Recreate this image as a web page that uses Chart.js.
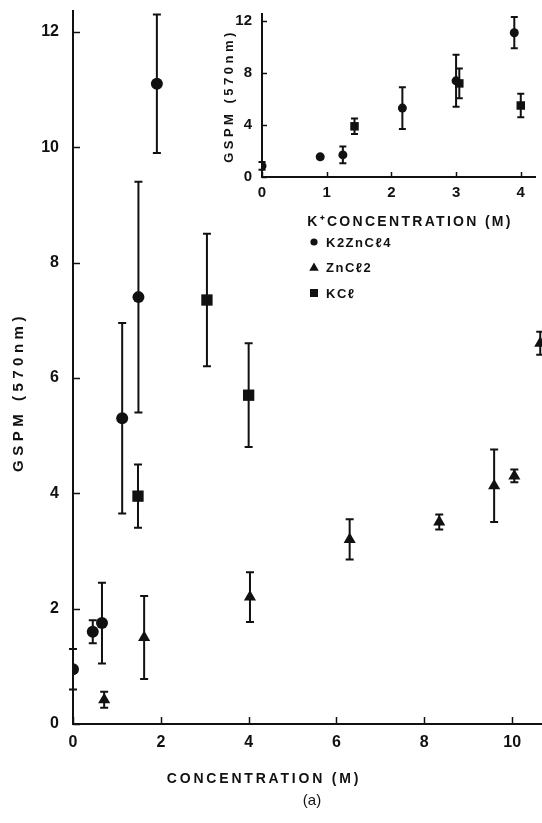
<!DOCTYPE html>
<html><head><meta charset="utf-8">
<script src="https://cdn.jsdelivr.net/npm/chart.js@4/dist/chart.umd.min.js"></script>
<style>
html,body{margin:0;padding:0;background:#fff;}
#wrap{position:relative;width:542px;height:823px;overflow:hidden;background:#fff;}
#main{position:absolute;left:0;top:0;}
#inset{position:absolute;left:200px;top:0;}
</style></head><body>
<div id="wrap">
<canvas id="main" width="542" height="823"></canvas>
<canvas id="inset" width="342" height="330"></canvas>
</div>
<script>
// ---- Data (main panel: concentration in M) ----
const seriesNames = ['K2ZnCℓ4', 'ZnCℓ2', 'KCℓ'];

const k2znX   = [0, 0.45, 0.66, 1.12, 1.49, 1.91];
const k2znY   = [0.95, 1.6, 1.75, 5.3, 7.4, 11.1];
const k2znErr = [0.35, 0.2, 0.7, 1.65, 2.0, 1.2];

const znX   = [0.71, 1.62, 4.03, 6.3, 8.34, 9.59, 10.05, 10.64];
const znY   = [0.42, 1.5, 2.2, 3.2, 3.5, 4.13, 4.3, 6.6];
const znErr = [0.14, 0.72, 0.43, 0.35, 0.13, 0.63, 0.11, 0.2];

const kclX   = [1.48, 3.05, 4.0];
const kclY   = [3.95, 7.35, 5.7];
const kclErr = [0.55, 1.15, 0.9];

// ---- Data (inset: K+ concentration in M) ----
const insetK2znX   = [0, 0.9, 1.25, 2.17, 3.0, 3.9];
const insetK2znY   = [0.85, 1.55, 1.7, 5.3, 7.4, 11.1];
const insetK2znErr = [0.3, 0.15, 0.65, 1.6, 2.0, 1.2];

const insetKclX   = [1.43, 3.05, 4.0];
const insetKclY   = [3.9, 7.2, 5.5];
const insetKclErr = [0.6, 1.15, 0.9];

// tick settings
const mainXTicks = {min: 0, max: 10.68, step: 2};
const mainYTicks = {min: 0, max: 12.36, step: 2};
const insetXTicks = {min: 0, max: 4.22, step: 1};
const insetYTicks = {min: 0, max: 12.54, step: 4};

const FONT = "'Liberation Sans', Arial, sans-serif";
const INK = '#111';

function pts(xs, ys) { return xs.map((x, i) => ({x: x, y: ys[i]})); }

const errorBars = {
  id: 'errorBars',
  beforeDatasetsDraw(chart, args, opts) {
    const ctx = chart.ctx, xs = chart.scales.x, ys = chart.scales.y;
    ctx.save();
    ctx.strokeStyle = INK; ctx.lineWidth = opts.lineWidth || 2;
    const cap = opts.cap || 4;
    chart.data.datasets.forEach(ds => {
      if (!ds.errors) return;
      ds.data.forEach((p, i) => {
        const e = ds.errors[i]; if (!e) return;
        const px = xs.getPixelForValue(p.x);
        const t = ys.getPixelForValue(p.y + e), b = ys.getPixelForValue(p.y - e);
        ctx.beginPath();
        ctx.moveTo(px, t); ctx.lineTo(px, b);
        ctx.moveTo(px - cap, t); ctx.lineTo(px + cap, t);
        ctx.moveTo(px - cap, b); ctx.lineTo(px + cap, b);
        ctx.stroke();
      });
    });
    ctx.restore();
  }
};

const inTicks = {
  id: 'inTicks',
  afterDraw(chart, args, opts) {
    const ctx = chart.ctx, a = chart.chartArea, xs = chart.scales.x, ys = chart.scales.y;
    const len = opts.len || 7;
    ctx.save(); ctx.strokeStyle = INK; ctx.lineWidth = opts.width || 1.5;
    xs.ticks.forEach(t => {
      const px = Math.round(xs.getPixelForValue(t.value)) + 0.5;
      ctx.beginPath(); ctx.moveTo(px, a.bottom); ctx.lineTo(px, a.bottom - len); ctx.stroke();
    });
    ys.ticks.forEach(t => {
      const py = Math.round(ys.getPixelForValue(t.value)) + 0.5;
      ctx.beginPath(); ctx.moveTo(a.left, py); ctx.lineTo(a.left + len, py); ctx.stroke();
    });
    ctx.restore();
  }
};

const texts = {
  id: 'texts',
  afterDraw(chart, args, opts) {
    const ctx = chart.ctx;
    (opts.items || []).forEach(it => {
      ctx.save();
      ctx.fillStyle = INK;
      ctx.font = it.font;
      ctx.letterSpacing = (it.spacing || 0) + 'px';
      ctx.textAlign = it.align || 'center';
      ctx.textBaseline = 'middle';
      ctx.translate(it.x, it.y);
      if (it.rotate) ctx.rotate(it.rotate);
      ctx.fillText(it.text, 0, 0);
      ctx.restore();
    });
  }
};

function marker(ctx, style, x, y, r) {
  ctx.beginPath();
  if (style === 'circle') { ctx.arc(x, y, r, 0, Math.PI * 2); }
  else if (style === 'triangle') {
    ctx.moveTo(x, y - r); ctx.lineTo(x + r * 0.95, y + r * 0.65); ctx.lineTo(x - r * 0.95, y + r * 0.65); ctx.closePath();
  } else { ctx.rect(x - r, y - r, 2 * r, 2 * r); }
  ctx.fill();
}

const customLegend = {
  id: 'customLegend',
  afterDraw(chart, args, opts) {
    const ctx = chart.ctx;
    ctx.save();
    ctx.fillStyle = INK;
    chart.data.datasets.forEach((ds, i) => {
      const y = opts.y + i * opts.gap;
      marker(ctx, ds.pointStyle, opts.x, y, opts.sizes[i]);
      ctx.font = 'bold 13px ' + FONT;
      ctx.letterSpacing = '1.5px';
      ctx.textAlign = 'left'; ctx.textBaseline = 'middle';
      ctx.fillText(ds.label, opts.x + 12, y + 1);
    });
    ctx.restore();
  }
};

function fixScale(size, horizontal) {
  return function (s) {
    if (horizontal) s.height = size; else s.width = size;
    s.paddingTop = 0; s.paddingBottom = 0; s.paddingLeft = 0; s.paddingRight = 0;
  };
}

function axis(t, horizontal, fontSize, pad, size) {
  return {
    type: 'linear', min: t.min, max: t.max,
    ticks: {stepSize: t.step, includeBounds: false, color: INK, padding: pad,
            font: {family: FONT, size: fontSize, weight: 'bold'}, maxRotation: 0, autoSkip: false},
    grid: {display: false, drawTicks: false},
    border: {display: true, color: INK, width: 2},
    afterFit: fixScale(size, horizontal)
  };
}

new Chart(document.getElementById('main'), {
  type: 'scatter',
  data: {
    datasets: [
      {label: seriesNames[0], data: pts(k2znX, k2znY), errors: k2znErr, pointStyle: 'circle',
       pointRadius: 6, backgroundColor: INK, borderColor: INK, borderWidth: 0},
      {label: seriesNames[1], data: pts(znX, znY), errors: znErr, pointStyle: 'triangle',
       pointRadius: 7, backgroundColor: INK, borderColor: INK, borderWidth: 0},
      {label: seriesNames[2], data: pts(kclX, kclY), errors: kclErr, pointStyle: 'rect',
       pointRadius: 8, backgroundColor: INK, borderColor: INK, borderWidth: 0}
    ]
  },
  options: {
    responsive: false, animation: false, devicePixelRatio: 1,
    layout: {autoPadding: false, padding: {left: 0, top: 11, right: 0, bottom: 59}},
    scales: {
      x: axis(mainXTicks, true, 16, 9, 40),
      y: axis(mainYTicks, false, 16, 14, 73)
    },
    plugins: {
      legend: {display: false}, tooltip: {enabled: false},
      errorBars: {lineWidth: 2, cap: 4},
      inTicks: {len: 7, width: 1.5},
      customLegend: {x: 314, y: 242, gap: 25.5, sizes: [3.6, 5, 4]},
      texts: {items: [
        {text: 'GSPM (570nm)', x: 19, y: 392, rotate: -Math.PI / 2, font: 'bold 15px ' + FONT, spacing: 4.5},
        {text: 'CONCENTRATION (M)', x: 264, y: 779, font: 'bold 14px ' + FONT, spacing: 2.8},
        {text: '(a)', x: 312, y: 801, font: '15px ' + FONT, spacing: 0}
      ]}
    }
  },
  plugins: [errorBars, inTicks, texts, customLegend]
});

new Chart(document.getElementById('inset'), {
  type: 'scatter',
  data: {
    datasets: [
      {label: seriesNames[0], data: pts(insetK2znX, insetK2znY), errors: insetK2znErr, pointStyle: 'circle',
       pointRadius: 4.5, backgroundColor: INK, borderColor: INK, borderWidth: 0},
      {label: seriesNames[2], data: pts(insetKclX, insetKclY), errors: insetKclErr, pointStyle: 'rect',
       pointRadius: 6, backgroundColor: INK, borderColor: INK, borderWidth: 0}
    ]
  },
  options: {
    responsive: false, animation: false, devicePixelRatio: 1,
    layout: {autoPadding: false, padding: {left: 0, top: 14, right: 7, bottom: 123}},
    scales: {
      x: axis(insetXTicks, true, 15, 7, 30),
      y: axis(insetYTicks, false, 15, 10, 62)
    },
    plugins: {
      legend: {display: false}, tooltip: {enabled: false},
      errorBars: {lineWidth: 2, cap: 3.5},
      inTicks: {len: 5, width: 1.5},
      texts: {items: [
        {text: 'GSPM (570nm)', x: 29, y: 96, rotate: -Math.PI / 2, font: 'bold 13px ' + FONT, spacing: 3.5},
        {text: 'K\u207ACONCENTRATION (M)', x: 210, y: 222, font: 'bold 14px ' + FONT, spacing: 2.3}
      ]}
    }
  },
  plugins: [errorBars, inTicks, texts]
});
</script>
</body></html>
